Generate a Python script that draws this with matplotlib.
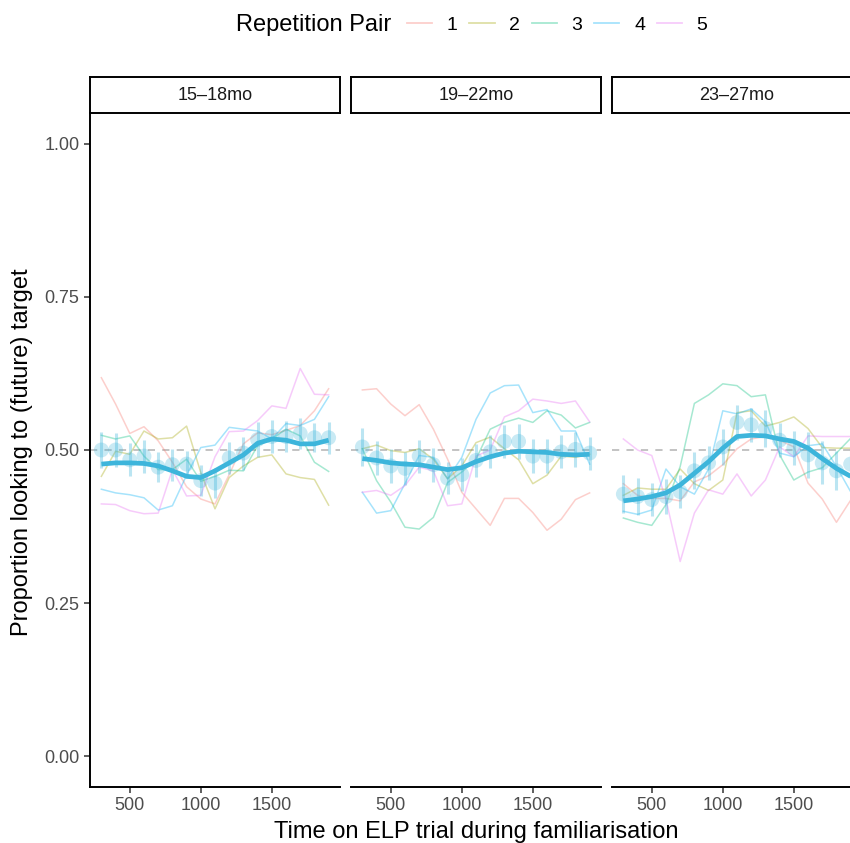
import matplotlib
matplotlib.use("Agg")
import matplotlib.pyplot as plt
from matplotlib.lines import Line2D
import numpy as np

plt.rcParams["font.family"] = ["Liberation Sans", "DejaVu Sans"]

times = np.arange(300, 2000, 100)
age_groups = ["15\u201318mo", "19\u201322mo", "23\u201327mo"]
pair_labels = ["1", "2", "3", "4", "5"]
pair_colors = ["#F8766D", "#A3A500", "#00BF7D", "#00B0F6", "#E76BF3"]

# proportion looking per repetition pair, one list per age group
pairs_15_18 = [
    [0.618, 0.575, 0.527, 0.538, 0.515, 0.480, 0.440, 0.420, 0.412, 0.460, 0.510, 0.528, 0.525, 0.532, 0.540, 0.564, 0.600],
    [0.457, 0.498, 0.493, 0.531, 0.518, 0.520, 0.539, 0.463, 0.404, 0.455, 0.474, 0.488, 0.492, 0.461, 0.455, 0.452, 0.410],
    [0.524, 0.518, 0.523, 0.490, 0.468, 0.468, 0.485, 0.449, 0.457, 0.467, 0.466, 0.507, 0.518, 0.534, 0.523, 0.480, 0.465],
    [0.436, 0.430, 0.427, 0.422, 0.402, 0.409, 0.459, 0.504, 0.508, 0.537, 0.534, 0.531, 0.518, 0.543, 0.540, 0.550, 0.587],
    [0.412, 0.411, 0.401, 0.396, 0.397, 0.468, 0.425, 0.426, 0.489, 0.530, 0.531, 0.548, 0.572, 0.568, 0.633, 0.591, 0.590],
]
pairs_19_22 = [
    [0.598, 0.600, 0.575, 0.556, 0.574, 0.534, 0.485, 0.431, 0.404, 0.377, 0.421, 0.421, 0.398, 0.369, 0.387, 0.419, 0.430],
    [0.502, 0.508, 0.499, 0.496, 0.502, 0.485, 0.453, 0.474, 0.512, 0.521, 0.502, 0.484, 0.445, 0.459, 0.490, 0.488, 0.493],
    [0.502, 0.450, 0.415, 0.374, 0.371, 0.390, 0.447, 0.464, 0.485, 0.534, 0.545, 0.552, 0.545, 0.564, 0.557, 0.536, 0.545],
    [0.431, 0.397, 0.401, 0.445, 0.491, 0.488, 0.453, 0.488, 0.550, 0.593, 0.605, 0.606, 0.561, 0.566, 0.531, 0.531, 0.477],
    [0.431, 0.434, 0.426, 0.442, 0.472, 0.466, 0.409, 0.412, 0.490, 0.500, 0.554, 0.564, 0.583, 0.580, 0.576, 0.580, 0.546],
]
pairs_23_27 = [
    [0.445, 0.426, 0.421, 0.421, 0.417, 0.448, 0.458, 0.476, 0.502, 0.518, 0.522, 0.516, 0.505, 0.446, 0.420, 0.382, 0.418],
    [0.426, 0.438, 0.436, 0.436, 0.469, 0.445, 0.434, 0.451, 0.561, 0.564, 0.539, 0.545, 0.554, 0.535, 0.504, 0.503, 0.503],
    [0.389, 0.382, 0.377, 0.411, 0.473, 0.576, 0.590, 0.608, 0.605, 0.587, 0.590, 0.492, 0.451, 0.464, 0.471, 0.495, 0.519],
    [0.400, 0.395, 0.402, 0.469, 0.440, 0.428, 0.469, 0.564, 0.559, 0.567, 0.546, 0.495, 0.489, 0.507, 0.510, 0.473, 0.432],
    [0.518, 0.500, 0.491, 0.419, 0.318, 0.397, 0.435, 0.428, 0.461, 0.425, 0.451, 0.505, 0.489, 0.523, 0.522, 0.522, 0.522],
]

means_15_18 = [0.500, 0.500, 0.484, 0.490, 0.472, 0.476, 0.477, 0.450, 0.446, 0.487, 0.495, 0.517, 0.522, 0.522, 0.527, 0.520, 0.520]
means_19_22 = [0.505, 0.487, 0.474, 0.470, 0.490, 0.476, 0.454, 0.460, 0.483, 0.497, 0.514, 0.514, 0.490, 0.490, 0.497, 0.501, 0.495]
means_23_27 = [0.428, 0.424, 0.419, 0.424, 0.432, 0.466, 0.479, 0.505, 0.545, 0.541, 0.535, 0.516, 0.503, 0.492, 0.479, 0.466, 0.477]

se_15_18 = [0.030, 0.027, 0.027, 0.027, 0.025, 0.026, 0.022, 0.025, 0.025, 0.026, 0.027, 0.028, 0.027, 0.025, 0.026, 0.024, 0.026]
se_19_22 = [0.031, 0.028, 0.028, 0.027, 0.027, 0.028, 0.026, 0.027, 0.027, 0.027, 0.027, 0.028, 0.028, 0.028, 0.027, 0.028, 0.027]
se_23_27 = [0.031, 0.030, 0.027, 0.028, 0.027, 0.030, 0.028, 0.030, 0.029, 0.028, 0.030, 0.028, 0.028, 0.038, 0.035, 0.032, 0.033]

smooth_15_18 = [0.477, 0.479, 0.479, 0.478, 0.474, 0.466, 0.457, 0.455, 0.466, 0.479, 0.492, 0.511, 0.518, 0.516, 0.510, 0.510, 0.516]
smooth_19_22 = [0.486, 0.483, 0.479, 0.477, 0.476, 0.472, 0.468, 0.471, 0.481, 0.489, 0.495, 0.498, 0.497, 0.496, 0.493, 0.492, 0.493]
smooth_23_27 = [0.417, 0.420, 0.424, 0.430, 0.443, 0.462, 0.481, 0.503, 0.522, 0.524, 0.523, 0.518, 0.514, 0.503, 0.486, 0.470, 0.457]

all_pairs = [pairs_15_18, pairs_19_22, pairs_23_27]
all_means = [means_15_18, means_19_22, means_23_27]
all_se = [se_15_18, se_19_22, se_23_27]
all_smooth = [smooth_15_18, smooth_19_22, smooth_23_27]

mean_color = "#3DB5DB"
tick_color = "#4D4D4D"

fig_w, fig_h = 850, 843
fig = plt.figure(figsize=(fig_w / 100, fig_h / 100), dpi=100)

panel_left = [90, 351, 612]
panel_width = 250
panel_top, panel_bottom = 113, 787
strip_h = 36

for i, group in enumerate(age_groups):
    x0 = panel_left[i] / fig_w
    y0 = (fig_h - panel_bottom) / fig_h
    h = (panel_bottom - panel_top) / fig_h
    ax = fig.add_axes([x0, y0, panel_width / fig_w, h])

    ax.axhline(0.5, color="#BEBEBE", linestyle=(0, (4, 4)), linewidth=1.3, zorder=1)
    for vals, color in zip(all_pairs[i], pair_colors):
        ax.plot(times, vals, color=color, alpha=0.35, linewidth=1.1, zorder=2)
    ax.errorbar(times, all_means[i], yerr=all_se[i], fmt="none", ecolor=mean_color,
                alpha=0.35, elinewidth=2.2, capsize=0, zorder=3)
    ax.scatter(times, all_means[i], s=115, color=mean_color, alpha=0.28,
               edgecolors="none", zorder=3)
    ax.plot(times, all_smooth[i], color=mean_color, linewidth=3.4,
            solid_capstyle="butt", zorder=4)

    ax.set_xlim(220, 1980)
    ax.set_ylim(-0.05, 1.05)
    ax.set_xticks([500, 1000, 1500])
    ax.set_yticks([0, 0.25, 0.5, 0.75, 1.0])
    ax.set_yticklabels(["0.00", "0.25", "0.50", "0.75", "1.00"])
    for side in ["top", "right"]:
        ax.spines[side].set_visible(False)
    ax.spines["bottom"].set_linewidth(1.4)
    ax.spines["left"].set_linewidth(1.4)
    ax.tick_params(axis="both", colors="#333333", labelcolor=tick_color,
                   labelsize=13, length=4, width=1.1)
    if i > 0:
        ax.spines["left"].set_visible(False)
        ax.tick_params(axis="y", left=False, labelleft=False)

    sax = fig.add_axes([x0, (fig_h - panel_top) / fig_h, panel_width / fig_w, strip_h / fig_h])
    sax.set_xticks([])
    sax.set_yticks([])
    for sp in sax.spines.values():
        sp.set_linewidth(1.4)
        sp.set_color("black")
    sax.text(0.5, 0.5, group, ha="center", va="center", fontsize=13, color="#1A1A1A",
             transform=sax.transAxes)

fig.text(22 / fig_w, 1 - 452 / fig_h, "Proportion looking to (future) target",
         rotation=90, ha="center", va="center", fontsize=17)
fig.text(476 / fig_w, 1 - 832 / fig_h, "Time on ELP trial during familiarisation",
         ha="center", va="center", fontsize=17)

fig.text(236 / fig_w, 1 - 25 / fig_h, "Repetition Pair", ha="left", va="center", fontsize=17)
handles = [Line2D([], [], color=c, alpha=0.35, linewidth=1.3) for c in pair_colors]
fig.legend(handles, pair_labels, ncol=5, loc="center left",
           bbox_to_anchor=(407 / fig_w, 1 - 25 / fig_h), frameon=False,
           fontsize=14, handlelength=1.3, handletextpad=0.75, columnspacing=0.6,
           borderaxespad=0, borderpad=0)

fig.savefig("out.png", dpi=100)
